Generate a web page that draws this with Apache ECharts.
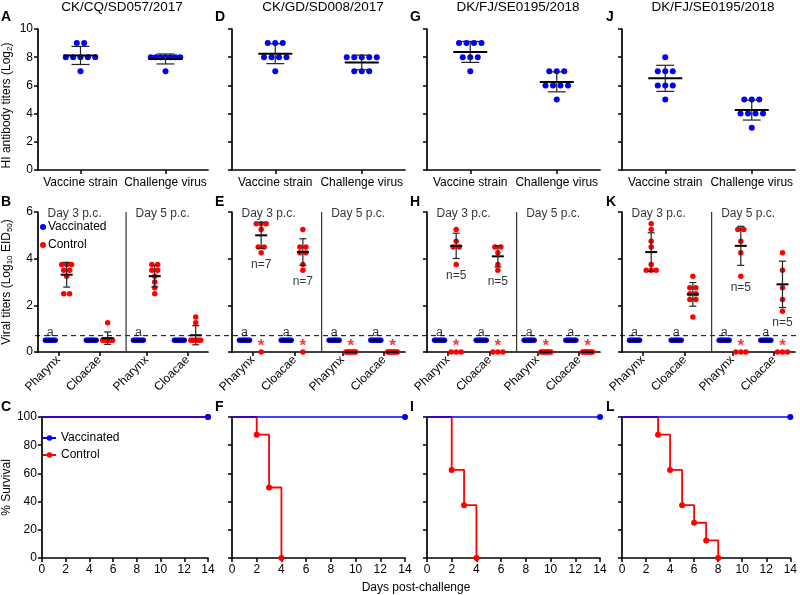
<!DOCTYPE html>
<html><head><meta charset="utf-8">
<script src="https://cdn.jsdelivr.net/npm/echarts@6/dist/echarts.min.js"></script>
<style>html,body{margin:0;padding:0;background:#fff}#c{width:800px;height:595px}</style>
</head><body><div id="c"></div>
<script>
// ---------------- DATA ----------------
const strainTitles = ['CK/CQ/SD057/2017','CK/GD/SD008/2017','DK/FJ/SE0195/2018','DK/FJ/SE0195/2018'];
const hiCategories = ['Vaccine strain','Challenge virus'];
const hiVaccineStrain = [
  [9,9,8,8,8,8,8,7],
  [9,9,9,8,8,8,8,7],
  [9,9,9,9,8,8,8,7],
  [8,7,7,7,6,6,6,5]
];
const hiChallengeVirus = [
  [8,8,8,8,8,8,8,7],
  [8,8,8,8,8,7,7,7],
  [7,7,7,6,6,6,6,5],
  [5,5,5,4,4,4,4,3]
];
const sites = ['Pharynx','Cloacae','Pharynx','Cloacae'];
const dayLabels = ['Day 3 p.c.','Day 5 p.c.'];
const detectionLimit = 0.7;
// vaccinated groups: all below detection limit (plotted at 0.5)
const vaccinatedTiters = [0.5,0.5,0.5,0.5,0.5,0.5,0.5,0.5];
// control groups, per panel (B, E, H, K), per site [Ph d3, Cl d3, Ph d5, Cl d5]
const controlB = [
  [3.75,3.75,3.75,3.5,3.5,3.25,2.5,2.5],
  [1.25,0.5,0.5,0.5,0.5,0.5,0.5,0.5],
  [3.75,3.75,3.5,3.5,3.25,3.0,2.75,2.5],
  [1.5,1.25,0.5,0.5,0.5,0.5,0.5,0.5]
];
const controlE = [[5.5,5.5,5.5,5.25,4.5,4.5,4.25],[5.25,4.5,4.5,4.25,4.25,3.75,3.5],[],[]];
const controlH = [[5.25,4.75,4.5,4.5,3.75],[4.5,4.5,4.25,3.75,3.5],[],[]];
const controlK = [
  [5.5,5.25,4.75,4.5,3.75,3.5,3.5,3.5],
  [3.25,2.75,2.75,2.5,2.5,2.25,2.25,1.5],
  [5.25,5.25,4.75,4.25,3.25],
  [4.25,3.5,2.75,2.25,1.75]
];
// dead / negative control birds plotted at 0 (marked with *)
const deadE = [[0],[0],[0,0,0,0,0,0,0,0],[0,0,0,0,0,0,0,0]];
const deadH = [[0,0,0],[0,0,0],[0,0,0,0,0,0,0,0],[0,0,0,0,0,0,0,0]];
const deadK = [[],[],[0,0,0],[0,0,0]];
const deadB = [[],[],[],[]];
const nLabels = [[null,null,null,null],['n=7','n=7',null,null],['n=5','n=5',null,null],[null,null,'n=5','n=5']];
const aLabelSites = [[true,false,true,false],[true,true,true,true],[true,true,true,true],[true,true,true,true]];
// survival
const survVacDays = [0,14];
const survVacPct = [100,100];
const survCtrlDays = [[0,14],[0,2,3,4],[0,2,3,4],[0,3,4,5,6,7,8]];
const survCtrlPct = [[100,100],[100,87.5,50,0],[100,62.5,37.5,0],[100,87.5,62.5,37.5,25,12.5,0]];
const panelLetters = [['A','D','G','J'],['B','E','H','K'],['C','F','I','L']];

// ---------------- LAYOUT ----------------
const FONT = '"Liberation Sans", Arial, Helvetica, sans-serif';
const BLUE = '#0000ff', RED = '#ff0000';
const COLS = [35, 232, 427, 622], W = 173;
const ROW_HI = [29, 141], ROW_VT = [212, 140], ROW_SV = [417, 141];
const HI_X = [-0.5, 1.5], VT_X = [-0.5, 3.65];
const midPos = [0, 1, 2.15, 3.15];
const dividerPos = 1.65, grpOff = 0.2;

const grids = [], xAxes = [], yAxes = [], series = [];
function addGrid(l, t, w, h) { grids.push({left: l, top: t, width: w, height: h}); return grids.length - 1; }
const axLine = {show: true, onZero: false, lineStyle: {color: '#000', width: 1.7}};
const axTick = {show: true, length: 4, lineStyle: {color: '#000', width: 1.5}};
const lab = {color: '#000', fontSize: 12, fontFamily: FONT};
const nameStyle = {color: '#000', fontSize: 12, fontFamily: FONT,
  rich: {s: {fontSize: 8, fontFamily: FONT, color: '#000', verticalAlign: 'bottom', padding: [6, 0, 0, 0]}}};
const CLEAR = 'rgba(0,0,0,0)';

function stats(v) {
  const n = v.length, m = v.reduce((a, b) => a + b, 0) / n;
  const sd = n > 1 ? Math.sqrt(v.reduce((a, b) => a + (b - m) * (b - m), 0) / (n - 1)) : 0;
  return [m, sd];
}
function swarm(vals, center, pxX, pxY, d, maxW) {
  const s = [...vals].sort((a, b) => b - a), out = []; let cl = [];
  const flush = () => { const k = cl.length; const sp = k > 1 ? Math.min(d, maxW / (k - 1)) : 0;
    cl.forEach((v, i) => out.push([center + ((i - (k - 1) / 2) * sp) / pxX, v])); cl = []; };
  s.forEach(v => { if (cl.length && (cl[0] - v) * pxY > d * 0.85) flush(); cl.push(v); });
  flush(); return out;
}
function meanSeries(ai, items, hw, cap, lw) {
  return {type: 'custom', xAxisIndex: ai, yAxisIndex: ai, z: 6, silent: true, clip: false,
    encode: {x: 0, y: 1}, data: items,
    renderItem(params, api) {
      const x = api.value(0), m = api.value(1), s = api.value(2);
      const c = api.coord([x, m]);
      const ch = [{type: 'line', shape: {x1: c[0] - hw, y1: c[1], x2: c[0] + hw, y2: c[1]}, style: {stroke: '#000', lineWidth: lw}}];
      if (s > 0) {
        const t = api.coord([x, m + s]), b = api.coord([x, m - s]);
        ch.push({type: 'line', shape: {x1: t[0], y1: t[1], x2: b[0], y2: b[1]}, style: {stroke: '#222', lineWidth: 1.2}});
        ch.push({type: 'line', shape: {x1: t[0] - cap, y1: t[1], x2: t[0] + cap, y2: t[1]}, style: {stroke: '#222', lineWidth: 1.2}});
        ch.push({type: 'line', shape: {x1: b[0] - cap, y1: b[1], x2: b[0] + cap, y2: b[1]}, style: {stroke: '#222', lineWidth: 1.2}});
      }
      return {type: 'group', children: ch};
    }};
}
function labelSeries(ai, pts, text, pos, dist, style) {
  return {type: 'scatter', xAxisIndex: ai, yAxisIndex: ai, silent: true, z: 7, clip: false,
    symbolSize: 1, itemStyle: {color: CLEAR}, data: pts,
    label: Object.assign({show: true, position: pos, distance: dist, formatter: text, fontFamily: FONT}, style)};
}

// ---- survival row (first so legend picks line icons) ----
for (let c = 0; c < 4; c++) {
  const gi = addGrid(COLS[c], ROW_SV[0], W, ROW_SV[1]);
  xAxes.push({type: 'value', gridIndex: gi, min: 0, max: 14, interval: 2, axisLine: axLine, axisTick: axTick,
    axisLabel: Object.assign({margin: 6}, lab), splitLine: {show: false}});
  yAxes.push({type: 'value', gridIndex: gi, min: 0, max: 100, interval: 20, axisLine: axLine, axisTick: axTick,
    axisLabel: Object.assign({show: c === 0, margin: 5}, lab), splitLine: {show: false},
    name: c === 0 ? '% Survival' : '', nameLocation: 'middle', nameRotate: 90, nameGap: 26, nameTextStyle: nameStyle});
  series.push({type: 'line', name: 'Control', xAxisIndex: gi, yAxisIndex: gi, step: 'end', z: 3,
    color: RED, lineStyle: {color: RED, width: 1.8}, symbol: 'circle', symbolSize: 6, clip: false,
    itemStyle: {color: RED},
    data: survCtrlDays[c].map((d, i) => i === 0 ? {value: [d, survCtrlPct[c][i]], symbol: 'none'} : [d, survCtrlPct[c][i]])});
  series.push({type: 'line', name: 'Vaccinated', xAxisIndex: gi, yAxisIndex: gi, z: 4,
    color: BLUE, lineStyle: {color: BLUE, width: 1.6}, symbol: 'circle', symbolSize: 6, clip: false,
    itemStyle: {color: BLUE},
    data: survVacDays.map((d, i) => i === 0 ? {value: [d, survVacPct[i]], symbol: 'none'} : [d, survVacPct[i]])});
}

// ---- HI titers row ----
for (let c = 0; c < 4; c++) {
  const gi = addGrid(COLS[c], ROW_HI[0], W, ROW_HI[1]);
  xAxes.push({type: 'value', gridIndex: gi, min: HI_X[0], max: HI_X[1], axisLine: axLine,
    axisTick: Object.assign({customValues: [0, 1]}, axTick),
    axisLabel: Object.assign({customValues: [0, 1], margin: 7, formatter: v => hiCategories[Math.round(v)]}, lab),
    splitLine: {show: false}});
  yAxes.push({type: 'value', gridIndex: gi, min: 0, max: 10, interval: 2, axisLine: axLine, axisTick: axTick,
    axisLabel: Object.assign({show: c === 0, margin: 5}, lab), splitLine: {show: false},
    name: c === 0 ? 'HI antibody titers (Log{s|2})' : '', nameLocation: 'middle', nameRotate: 90, nameGap: 24,
    nameTextStyle: Object.assign({padding: [0, 12, 0, 0]}, nameStyle)});
  const pxX = W / (HI_X[1] - HI_X[0]), pxY = ROW_HI[1] / 10;
  const groups = [hiVaccineStrain[c], hiChallengeVirus[c]];
  const pts = [], means = [];
  groups.forEach((g, k) => { pts.push(...swarm(g, k, pxX, pxY, 7.5, 30)); const s = stats(g); means.push([k, s[0], s[1]]); });
  series.push({type: 'scatter', xAxisIndex: gi, yAxisIndex: gi, symbolSize: 6, itemStyle: {color: BLUE, opacity: 1}, z: 5, data: pts});
  series.push(meanSeries(gi, means, 17, 9, 2));
}

// ---- viral titers row ----
const controls = [controlB, controlE, controlH, controlK];
const deads = [deadB, deadE, deadH, deadK];
for (let c = 0; c < 4; c++) {
  const gi = addGrid(COLS[c], ROW_VT[0], W, ROW_VT[1]);
  xAxes.push({type: 'value', gridIndex: gi, min: VT_X[0], max: VT_X[1], axisLine: axLine,
    axisTick: Object.assign({customValues: midPos}, axTick),
    axisLabel: Object.assign({customValues: midPos, margin: 6, rotate: 45,
      formatter: v => sites[midPos.findIndex(p => Math.abs(p - v) < 1e-6)] || ''}, lab),
    splitLine: {show: false}});
  yAxes.push({type: 'value', gridIndex: gi, min: 0, max: 6, interval: 2, axisLine: axLine, axisTick: axTick,
    axisLabel: Object.assign({show: c === 0, margin: 5}, lab), splitLine: {show: false},
    name: c === 0 ? 'Viral titers (Log{s|10} EID{s|50})' : '', nameLocation: 'middle', nameRotate: 90, nameGap: 24, nameTextStyle: nameStyle});
  const pxX = W / (VT_X[1] - VT_X[0]), pxY = ROW_VT[1] / 6;
  const vPts = [], cPts = [], dPts = [], means = [], aPts = [], sPts = [], nPts = [];
  for (let s = 0; s < 4; s++) {
    const xv = midPos[s] - grpOff, xc = midPos[s] + grpOff;
    vPts.push(...swarm(vaccinatedTiters, xv, pxX, pxY, 6, 10));
    const sv = stats(vaccinatedTiters); means.push([xv, sv[0], sv[1]]);
    if (aLabelSites[c][s]) aPts.push([xv, vaccinatedTiters[0]]);
    const pos = controls[c][s], dead = deads[c][s];
    if (pos.length) { cPts.push(...swarm(pos, xc, pxX, pxY, 6, 10)); const st = stats(pos); means.push([xc, st[0], st[1]]); }
    if (dead.length) { dPts.push(...swarm(dead, xc, pxX, pxY, 6, 10)); sPts.push([xc, 0]);
      if (!pos.length) means.push([xc, 0, 0]); }
    if (nLabels[c][s]) nPts.push({value: [xc, Math.min(...pos)], label: {formatter: nLabels[c][s]}});
  }
  series.push({type: 'scatter', name: 'Vaccinated', xAxisIndex: gi, yAxisIndex: gi, symbolSize: 5.5, itemStyle: {color: BLUE, opacity: 1}, z: 5, data: vPts});
  series.push({type: 'scatter', name: 'Control', xAxisIndex: gi, yAxisIndex: gi, symbolSize: 5.5, itemStyle: {color: RED, opacity: 1}, z: 5, data: cPts.concat(dPts), clip: false});
  series.push(meanSeries(gi, means, 6, 3.5, 2));
  series.push({type: 'line', xAxisIndex: gi, yAxisIndex: gi, silent: true, symbol: 'none', z: 2,
    lineStyle: {color: '#333', width: 1.2}, data: [[dividerPos, 0], [dividerPos, 6]]});
  series.push(labelSeries(gi, aPts, 'a', 'top', 1, {fontSize: 12.5, color: '#000'}));
  series.push(labelSeries(gi, sPts, '*', 'top', -3, {fontSize: 17, fontWeight: 'bold', color: RED}));
  series.push(labelSeries(gi, nPts, '', 'bottom', 5, {fontSize: 12, color: '#000'}));
  // day labels
  series.push(labelSeries(gi, [{value: [VT_X[0], 6], label: {formatter: dayLabels[0]}},
    {value: [dividerPos, 6], label: {formatter: dayLabels[1]}}], '', 'right', 9, {fontSize: 12, color: '#000', offset: [0, 2]}));
}
// detection-limit dashed line spanning the whole row
const gD = addGrid(COLS[0], ROW_VT[0], 796 - COLS[0], ROW_VT[1]);
xAxes.push({type: 'value', gridIndex: gD, min: 0, max: 1, show: false});
yAxes.push({type: 'value', gridIndex: gD, min: 0, max: 6, show: false});
series.push({type: 'line', xAxisIndex: gD, yAxisIndex: gD, silent: true, symbol: 'none', z: 1,
  lineStyle: {color: '#000', width: 1, type: [5, 4]}, data: [[0, detectionLimit], [1, detectionLimit]]});

// ---------------- TEXT ----------------
const graphics = [];
const titleX = [122, 323, 518, 713];
strainTitles.forEach((t, i) => graphics.push({type: 'text', x: titleX[i], y: 7, style: {text: t, fontSize: 13.5, fontFamily: FONT, fill: '#000', align: 'center', verticalAlign: 'middle'}}));
const letterX = [1, 215, 410, 606], letterY = [17, 202, 407];
panelLetters.forEach((row, r) => row.forEach((L, c) => graphics.push({type: 'text', x: letterX[c], y: letterY[r],
  style: {text: L, fontSize: 14, fontWeight: 'bold', fontFamily: FONT, fill: '#000', verticalAlign: 'middle'}})));
graphics.push({type: 'text', x: 416, y: 588, style: {text: 'Days post-challenge', fontSize: 12, fontFamily: FONT, fill: '#000', align: 'center', verticalAlign: 'middle'}});

const chart = echarts.init(document.getElementById('c'), null, {renderer: 'canvas'});
chart.setOption({
  animation: false,
  backgroundColor: '#fff',
  grid: grids, xAxis: xAxes, yAxis: yAxes, series: series,
  legend: [
    {left: 40, top: 221, padding: 0, orient: 'vertical', itemGap: 6, itemWidth: 6, itemHeight: 6, selectedMode: false,
      textStyle: {fontSize: 12, fontFamily: FONT, color: '#000', padding: [0, 0, 0, -3]},
      data: [{name: 'Vaccinated', icon: 'circle'}, {name: 'Control', icon: 'circle'}]},
    {left: 42, top: 432, padding: 0, orient: 'vertical', itemGap: 5, itemWidth: 13, itemHeight: 7, selectedMode: false,
      textStyle: {fontSize: 12, fontFamily: FONT, color: '#000'},
      data: ['Vaccinated', 'Control']}
  ],
  graphic: graphics
});
</script></body></html>
